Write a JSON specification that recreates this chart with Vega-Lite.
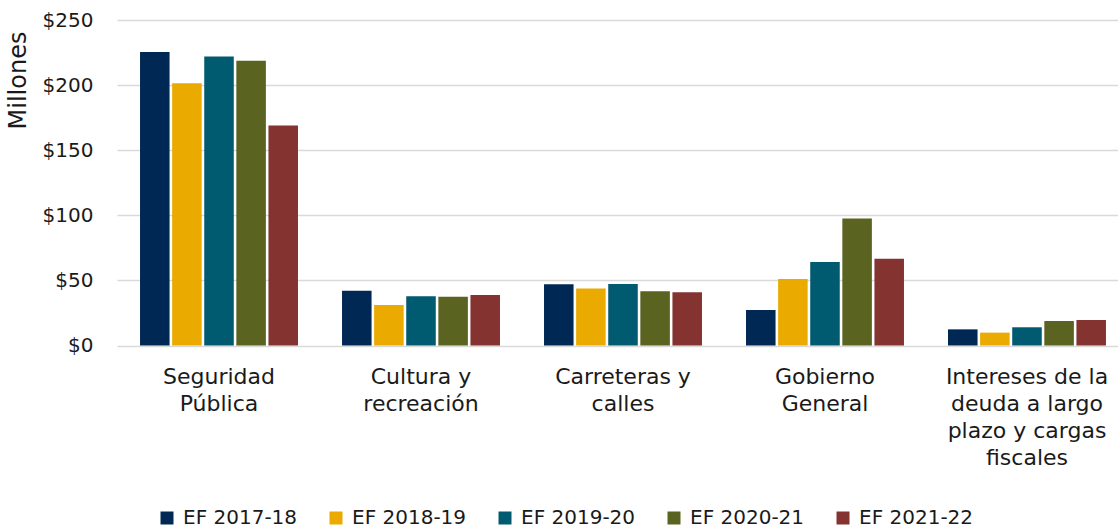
{
  "$schema": "https://vega.github.io/schema/vega-lite/v6.json",
  "width": 1012,
  "height": 325.5,
  "autosize": {"type": "none"},
  "padding": {"left": 117, "top": 20, "right": 0, "bottom": 184},
  "background": "white",
  "config": {
    "font": "DejaVu Sans",
    "view": {"stroke": null},
    "axis": {"labelFont": "DejaVu Sans", "titleFont": "DejaVu Sans"},
    "legend": {"labelFont": "DejaVu Sans"}
  },
  "data": {
    "values": [
      {"categoria": "Seguridad Pública", "ejercicio": "EF 2017-18", "monto": 225.4},
      {"categoria": "Seguridad Pública", "ejercicio": "EF 2018-19", "monto": 201.5},
      {"categoria": "Seguridad Pública", "ejercicio": "EF 2019-20", "monto": 222.0},
      {"categoria": "Seguridad Pública", "ejercicio": "EF 2020-21", "monto": 218.7},
      {"categoria": "Seguridad Pública", "ejercicio": "EF 2021-22", "monto": 169.0},
      {"categoria": "Cultura y recreación", "ejercicio": "EF 2017-18", "monto": 42.1},
      {"categoria": "Cultura y recreación", "ejercicio": "EF 2018-19", "monto": 31.1},
      {"categoria": "Cultura y recreación", "ejercicio": "EF 2019-20", "monto": 37.8},
      {"categoria": "Cultura y recreación", "ejercicio": "EF 2020-21", "monto": 37.5},
      {"categoria": "Cultura y recreación", "ejercicio": "EF 2021-22", "monto": 38.8},
      {"categoria": "Carreteras y calles", "ejercicio": "EF 2017-18", "monto": 47.0},
      {"categoria": "Carreteras y calles", "ejercicio": "EF 2018-19", "monto": 43.7},
      {"categoria": "Carreteras y calles", "ejercicio": "EF 2019-20", "monto": 47.3},
      {"categoria": "Carreteras y calles", "ejercicio": "EF 2020-21", "monto": 41.7},
      {"categoria": "Carreteras y calles", "ejercicio": "EF 2021-22", "monto": 40.9},
      {"categoria": "Gobierno General", "ejercicio": "EF 2017-18", "monto": 27.3},
      {"categoria": "Gobierno General", "ejercicio": "EF 2018-19", "monto": 51.1},
      {"categoria": "Gobierno General", "ejercicio": "EF 2019-20", "monto": 64.2},
      {"categoria": "Gobierno General", "ejercicio": "EF 2020-21", "monto": 97.5},
      {"categoria": "Gobierno General", "ejercicio": "EF 2021-22", "monto": 66.7},
      {"categoria": "Intereses de la deuda a largo plazo y cargas fiscales", "ejercicio": "EF 2017-18", "monto": 12.4},
      {"categoria": "Intereses de la deuda a largo plazo y cargas fiscales", "ejercicio": "EF 2018-19", "monto": 9.9},
      {"categoria": "Intereses de la deuda a largo plazo y cargas fiscales", "ejercicio": "EF 2019-20", "monto": 14.0},
      {"categoria": "Intereses de la deuda a largo plazo y cargas fiscales", "ejercicio": "EF 2020-21", "monto": 18.8},
      {"categoria": "Intereses de la deuda a largo plazo y cargas fiscales", "ejercicio": "EF 2021-22", "monto": 19.6}
    ]
  },
  "mark": {"type": "bar"},
  "encoding": {
    "x": {
      "field": "categoria",
      "type": "nominal",
      "sort": null,
      "scale": {"paddingInner": 0.218, "paddingOuter": 0.114},
      "axis": {
        "title": null,
        "labelAngle": 0,
        "domain": false,
        "ticks": false,
        "labelFontSize": 22,
        "labelColor": "#1a1a1a",
        "labelPadding": 21,
        "labelLineHeight": 27,
        "labelLimit": 300,
        "labelExpr": "datum.value == 'Seguridad Pública' ? ['Seguridad', 'Pública'] : datum.value == 'Cultura y recreación' ? ['Cultura y', 'recreación'] : datum.value == 'Carreteras y calles' ? ['Carreteras y', 'calles'] : datum.value == 'Gobierno General' ? ['Gobierno', 'General'] : ['Intereses de la', 'deuda a largo', 'plazo y cargas', 'fiscales']"
      }
    },
    "xOffset": {
      "field": "ejercicio",
      "type": "nominal",
      "scale": {"paddingInner": 0.08}
    },
    "y": {
      "field": "monto",
      "type": "quantitative",
      "scale": {"domain": [0, 250], "nice": false},
      "axis": {
        "title": "Millones",
        "titleFontSize": 24,
        "titleFontWeight": "normal",
        "titleColor": "#1a1a1a",
        "titleX": -99,
        "titleY": 60,
        "titleAlign": "center",
        "titleBaseline": "middle",
        "values": [0, 50, 100, 150, 200, 250],
        "format": "$.0f",
        "domain": false,
        "ticks": false,
        "labelFontSize": 20,
        "labelColor": "#1a1a1a",
        "labelPadding": 24,
        "gridColor": "#d9d9d9",
        "gridWidth": 1.5
      }
    },
    "color": {
      "field": "ejercicio",
      "type": "nominal",
      "scale": {
        "domain": ["EF 2017-18", "EF 2018-19", "EF 2019-20", "EF 2020-21", "EF 2021-22"],
        "range": ["#002855", "#EAAA00", "#005A70", "#5A6320", "#843331"]
      },
      "legend": {
        "title": null,
        "orient": "none",
        "direction": "horizontal",
        "legendX": 40,
        "legendY": 488,
        "symbolType": "square",
        "symbolSize": 169,
        "symbolStrokeWidth": 0,
        "labelFontSize": 20,
        "labelColor": "#1a1a1a",
        "labelOffset": 6,
        "labelLimit": 200,
        "columnPadding": 28
      }
    }
  }
}
